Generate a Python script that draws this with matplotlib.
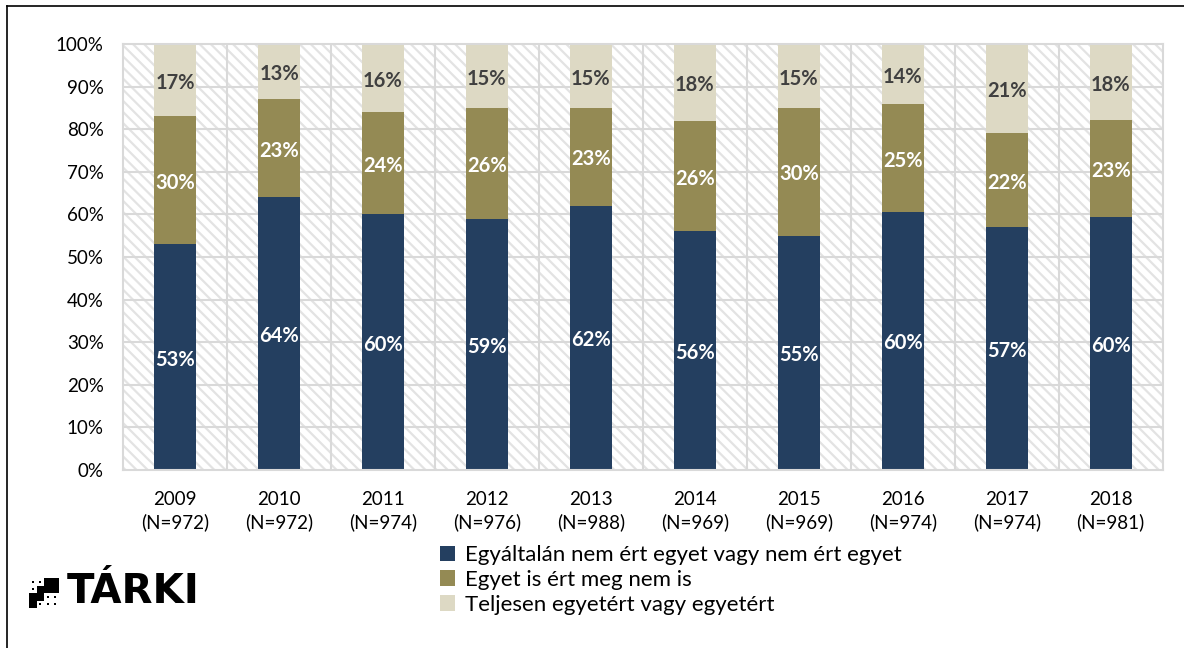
import matplotlib.pyplot as plt
from matplotlib.patches import Rectangle, Patch
from matplotlib.lines import Line2D
import numpy as np

plt.rcParams['font.family'] = ['Lato', 'DejaVu Sans']
plt.rcParams['hatch.linewidth'] = 1.6

years = ['2009', '2010', '2011', '2012', '2013', '2014', '2015', '2016', '2017', '2018']
sample_n = [972, 972, 974, 976, 988, 969, 969, 974, 974, 981]
disagree = [53, 64, 60, 59, 62, 56, 55, 60, 57, 60]
neutral = [30, 23, 24, 26, 23, 26, 30, 25, 22, 23]
agree = [17, 13, 16, 15, 15, 18, 15, 14, 21, 18]

series_names = ['Egyáltalán nem ért egyet vagy nem ért egyet',
                'Egyet is ért meg nem is',
                'Teljesen egyetért vagy egyetért']
colors = ['#243f60', '#948a54', '#ddd9c4']
label_colors = ['white', 'white', '#404040']
grid_col = '#d9d9d9'

fig = plt.figure(figsize=(11.84, 6.48), dpi=100)
ax = fig.add_axes([0.104, 0.275, 0.878, 0.657])

x = np.arange(len(years))
ax.set_xlim(-0.5, len(years) - 0.5)
ax.set_ylim(0, 100)

# hatched plot area
ax.add_patch(Rectangle((0, 0), 1, 1, transform=ax.transAxes, facecolor='white',
                       edgecolor='#e3e3e3', hatch='\\\\\\', linewidth=0, zorder=0))
for yv in range(10, 100, 10):
    ax.axhline(yv, color=grid_col, lw=1.5, zorder=1)
for xv in np.arange(0.5, len(years) - 0.5, 1):
    ax.axvline(xv, color=grid_col, lw=1.5, zorder=1)
for s in ax.spines.values():
    s.set_color(grid_col)
    s.set_linewidth(1.5)

# 100% stacked: each column scaled by its total
raw = np.array([disagree, neutral, agree], dtype=float)
shares = raw / raw.sum(axis=0) * 100

bottom = np.zeros(len(years))
for vals, labels, col, lcol in zip(shares, raw, colors, label_colors):
    ax.bar(x, vals, bottom=bottom, width=0.4, color=col, zorder=2)
    for xi, b, v, lab in zip(x, bottom, vals, labels):
        ax.text(xi, b + v / 2 - 0.6, f'{lab:.0f}%', ha='center', va='center',
                color=lcol, fontsize=14.5, fontweight='bold', zorder=3)
    bottom += vals

ax.set_yticks(range(0, 101, 10))
ax.set_yticklabels([f'{v}%' for v in range(0, 101, 10)], fontsize=13.5)
ax.set_xticks(x)
ax.set_xticklabels([f'{y}\n(N={n})' for y, n in zip(years, sample_n)], fontsize=13.5,
                   linespacing=1.35)
ax.tick_params(axis='y', length=0, pad=14)
ax.tick_params(axis='x', length=0, pad=15)

handles = [Patch(facecolor=c, edgecolor='none') for c in colors]
fig.legend(handles, series_names, loc='upper left', bbox_to_anchor=(0.362, 1 - 534 / 648),
           frameon=False, fontsize=16, handlelength=0.7, handleheight=0.7,
           handletextpad=0.45, labelspacing=0.22, borderpad=0)

# frame lines on top and left
fig.add_artist(Line2D([7 / 1184, 1], [1 - 6 / 648, 1 - 6 / 648], color='black', lw=1.2))
fig.add_artist(Line2D([7 / 1184, 7 / 1184], [0, 1 - 6 / 648], color='black', lw=1.2))

# logo: staircase icon and name
W, H = 1184, 648
cell = 7.5
x0, y0 = 29, 578
blocks = [(2, 0), (3, 0), (1, 1), (2, 1), (3, 1), (0, 2), (1, 2), (0, 3)]
dots = [(0, 0), (1, 0), (0, 1), (2, 2), (3, 2), (1, 3), (2, 3), (3, 3)]
for c, r in blocks:
    fig.add_artist(Rectangle(((x0 + c * cell) / W, 1 - (y0 + (r + 1) * cell) / H),
                             cell / W, cell / H, facecolor='black', edgecolor='none'))
for c, r in dots:
    fig.add_artist(Rectangle(((x0 + c * cell + cell / 2 - 1) / W,
                              1 - (y0 + r * cell + cell / 2 + 1) / H),
                             2 / W, 2 / H, facecolor='black', edgecolor='none'))
fig.text(67 / W, 1 - 592 / H, 'TÁRKI', fontsize=29, fontweight='bold', va='center',
         ha='left', color='black', family='DejaVu Sans')

fig.savefig('out.png', dpi=100)
